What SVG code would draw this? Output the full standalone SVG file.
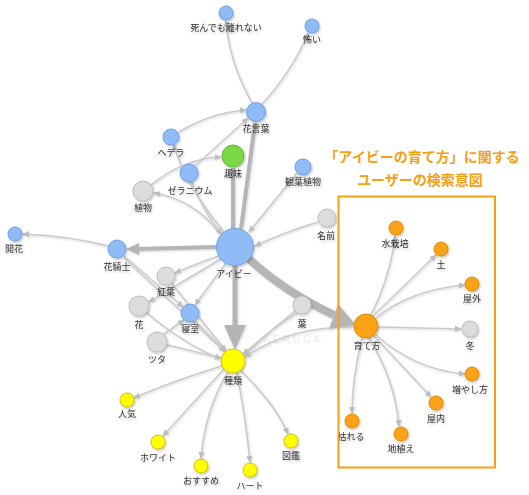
<svg xmlns="http://www.w3.org/2000/svg" width="529" height="495" viewBox="0 0 529 495">
<defs>
<filter id="sh" x="-50%" y="-50%" width="200%" height="200%"><feDropShadow dx="1" dy="1.5" stdDeviation="1" flood-color="#000" flood-opacity="0.25"/></filter>
<filter id="esh" x="-20%" y="-20%" width="140%" height="140%"><feDropShadow dx="0.8" dy="1" stdDeviation="0.8" flood-color="#000" flood-opacity="0.18"/></filter>
<marker id="ar" markerWidth="7" markerHeight="6" refX="6" refY="3" orient="auto" markerUnits="userSpaceOnUse"><path d="M0,0 L7,3 L0,6 z" fill="#bdbdbd"/></marker>
</defs>
<style>
.e{fill:none;stroke:#cacaca;stroke-width:1.6;marker-end:url(#ar)}
.t{fill:none;stroke:#b5b5b5}
.ah{fill:#b5b5b5}
.n circle{stroke-width:1}
.b{fill:#8fbcf7;stroke:#6f9fe0}
.g{fill:#dcdcdc;stroke:#bdbdbd}
.gr{fill:#78d944;stroke:#5fb83a}
.o{fill:#fba313;stroke:#e08a00}
.y{fill:#ffff00;stroke:#d8c000}
text{font-family:"Noto Sans CJK JP","Noto Sans",sans-serif;font-size:9px;fill:#333;text-anchor:middle}
.ttl{font-size:14px;font-weight:bold;fill:#f5a012}
</style>
<rect width="529" height="495" fill="#fff"/>
<text x="296" y="343" style="font-size:10px;fill:#ededed;letter-spacing:3px;font-family:'Liberation Sans',sans-serif">KERUCA.</text>
<g id="connectors" filter="url(#esh)">
<path class="e" d="M252,103 Q229,62 226,21"/>
<path class="e" d="M262,104 Q292,72 308,33"/>
<path class="e" d="M179,132 Q210,113 246,110"/>
<path class="e" d="M195,166 L248,118"/>
<path class="e" d="M151,185 Q185,158 221,157"/>
<path class="e" d="M297,173 L249,232"/>
<path class="e" d="M318,222 Q285,232 255,246"/>
<path class="e" d="M220,234 Q195,200 154,193"/>
<path class="e" d="M192,182 Q205,215 222,234"/>
<path class="e" d="M224,232 Q185,185 174,145"/>
<path class="e" d="M108,246 Q70,236 23,234"/>
<path class="e" d="M124,256 L183,307"/>
<path class="e" d="M124,258 L225,352"/>
<path class="e" d="M219,256 Q198,263 175,273"/>
<path class="e" d="M221,259 Q185,280 149,302"/>
<path class="e" d="M226,263 L195,305"/>
<path class="e" d="M172,284 L226,351"/>
<path class="e" d="M147,313 Q185,345 221,359"/>
<path class="e" d="M167,345 L221,358"/>
<path class="e" d="M164,334 L184,320"/>
<path class="e" d="M195,321 L225,351"/>
<path class="e" d="M295,311 L243,354"/>
<path class="e" d="M297,313 Q268,330 245,356"/>
<path class="e" d="M354,327 Q290,326 245,357"/>
<path class="e" d="M371,315 Q391,275 395,236"/>
<path class="e" d="M373,316 L436,255"/>
<path class="e" d="M376,318 Q410,290 465,285"/>
<path class="e" d="M378,327 L461,329"/>
<path class="e" d="M376,335 Q415,370 465,374"/>
<path class="e" d="M374,336 L431,397"/>
<path class="e" d="M369,338 Q395,380 399,426"/>
<path class="e" d="M362,338 Q352,380 352,413"/>
<path class="e" d="M222,366 Q170,382 134,398"/>
<path class="e" d="M224,369 L163,436"/>
<path class="e" d="M228,372 Q205,410 201,458"/>
<path class="e" d="M237,373 Q246,420 250,462"/>
<path class="e" d="M241,371 Q276,405 288,434"/>
<path class="t" stroke-width="4" d="M233,229 L233,168"/>
<path class="t" stroke-width="4" d="M241,229 L255,123"/>
<path class="t" stroke-width="4" d="M216,247 L136,249"/>
<polygon class="ah" points="126,249 139,243 139,255"/>
<path class="t" stroke-width="5" d="M235,266 L235,327"/>
<polygon class="ah" points="224,325 246,325 235,350"/>
<path class="t" stroke-width="8" d="M249,259 Q285,292 334,315"/>
<polygon class="ah" points="356,325 329,329 338,304"/>
</g>
<g id="n-shinde" class="n" filter="url(#sh)"><circle class="b" cx="226" cy="13" r="7"/><text x="226" y="31">死んでも離れない</text></g>
<g id="n-kowai" class="n" filter="url(#sh)"><circle class="b" cx="312" cy="26" r="7"/><text x="312" y="43">怖い</text></g>
<g id="n-hanakotoba" class="n" filter="url(#sh)"><circle class="b" cx="256" cy="112" r="9.5"/><text x="256" y="132">花言葉</text></g>
<g id="n-hedera" class="n" filter="url(#sh)"><circle class="b" cx="171" cy="137" r="8"/><text x="171" y="156">ヘデラ</text></g>
<g id="n-shumi" class="n" filter="url(#sh)"><circle class="gr" cx="233" cy="156" r="11"/><text x="233" y="177">趣味</text></g>
<g id="n-zeranium" class="n" filter="url(#sh)"><circle class="b" cx="189" cy="173" r="9"/><text x="190" y="194">ゼラニウム</text></g>
<g id="n-kanyou" class="n" filter="url(#sh)"><circle class="b" cx="303" cy="167" r="8"/><text x="303" y="185">観葉植物</text></g>
<g id="n-shokubutsu" class="n" filter="url(#sh)"><circle class="g" cx="143" cy="191" r="10"/><text x="143" y="211">植物</text></g>
<g id="n-namae" class="n" filter="url(#sh)"><circle class="g" cx="327" cy="218" r="9"/><text x="326" y="239">名前</text></g>
<g id="n-ivy" class="n" filter="url(#sh)"><circle class="b" cx="235" cy="247" r="18.5"/><text x="234" y="277">アイビー</text></g>
<g id="n-hanakishi" class="n" filter="url(#sh)"><circle class="b" cx="117" cy="249" r="9"/><text x="117" y="270">花騎士</text></g>
<g id="n-kaika" class="n" filter="url(#sh)"><circle class="b" cx="15" cy="234" r="7"/><text x="14" y="252">開花</text></g>
<g id="n-kouyou" class="n" filter="url(#sh)"><circle class="g" cx="166" cy="276" r="9"/><text x="166" y="295">紅葉</text></g>
<g id="n-hana" class="n" filter="url(#sh)"><circle class="g" cx="139" cy="306" r="10"/><text x="139" y="328">花</text></g>
<g id="n-shinshitsu" class="n" filter="url(#sh)"><circle class="b" cx="190" cy="313" r="9"/><text x="190" y="332">寝室</text></g>
<g id="n-tsuta" class="n" filter="url(#sh)"><circle class="g" cx="157" cy="342" r="10"/><text x="157" y="363">ツタ</text></g>
<g id="n-ha" class="n" filter="url(#sh)"><circle class="g" cx="302" cy="305" r="9"/><text x="302" y="327">葉</text></g>
<g id="n-shurui" class="n" filter="url(#sh)"><circle class="y" cx="233" cy="361" r="12"/><text x="233" y="384">種類</text></g>
<g id="n-sodatekata" class="n" filter="url(#sh)"><circle class="o" cx="366" cy="326" r="12"/><text x="367" y="349">育て方</text></g>
<g id="n-suisaibai" class="n" filter="url(#sh)"><circle class="o" cx="396" cy="228" r="7"/><text x="395" y="247">水栽培</text></g>
<g id="n-tsuchi" class="n" filter="url(#sh)"><circle class="o" cx="441" cy="249" r="7"/><text x="441" y="268">土</text></g>
<g id="n-okugai" class="n" filter="url(#sh)"><circle class="o" cx="472" cy="284" r="7"/><text x="472" y="302">屋外</text></g>
<g id="n-fuyu" class="n" filter="url(#sh)"><circle class="g" cx="470" cy="329" r="8"/><text x="470" y="349">冬</text></g>
<g id="n-fuyashikata" class="n" filter="url(#sh)"><circle class="o" cx="472" cy="374" r="7"/><text x="470" y="393">増やし方</text></g>
<g id="n-okunai" class="n" filter="url(#sh)"><circle class="o" cx="436" cy="403" r="7"/><text x="436" y="422">屋内</text></g>
<g id="n-jiue" class="n" filter="url(#sh)"><circle class="o" cx="401" cy="434" r="7"/><text x="401" y="452">地植え</text></g>
<g id="n-kareru" class="n" filter="url(#sh)"><circle class="o" cx="352" cy="421" r="7"/><text x="351" y="440">枯れる</text></g>
<g id="n-ninki" class="n" filter="url(#sh)"><circle class="y" cx="127" cy="400" r="7"/><text x="127" y="417">人気</text></g>
<g id="n-white" class="n" filter="url(#sh)"><circle class="y" cx="158" cy="442" r="7"/><text x="158" y="461">ホワイト</text></g>
<g id="n-osusume" class="n" filter="url(#sh)"><circle class="y" cx="201" cy="466" r="7"/><text x="201" y="484">おすすめ</text></g>
<g id="n-heart" class="n" filter="url(#sh)"><circle class="y" cx="250" cy="470" r="7"/><text x="250" y="489">ハート</text></g>
<g id="n-zukan" class="n" filter="url(#sh)"><circle class="y" cx="291" cy="441" r="7"/><text x="291" y="459">図鑑</text></g>
<g id="annotation">
<rect x="338.5" y="196.5" width="156.5" height="271" fill="none" stroke="#f5a012" stroke-width="2"/>
<text class="ttl" x="422" y="162">「アイビーの育て方」に関する</text>
<text class="ttl" x="420" y="185">ユーザーの検索意図</text>
</g>
</svg>
